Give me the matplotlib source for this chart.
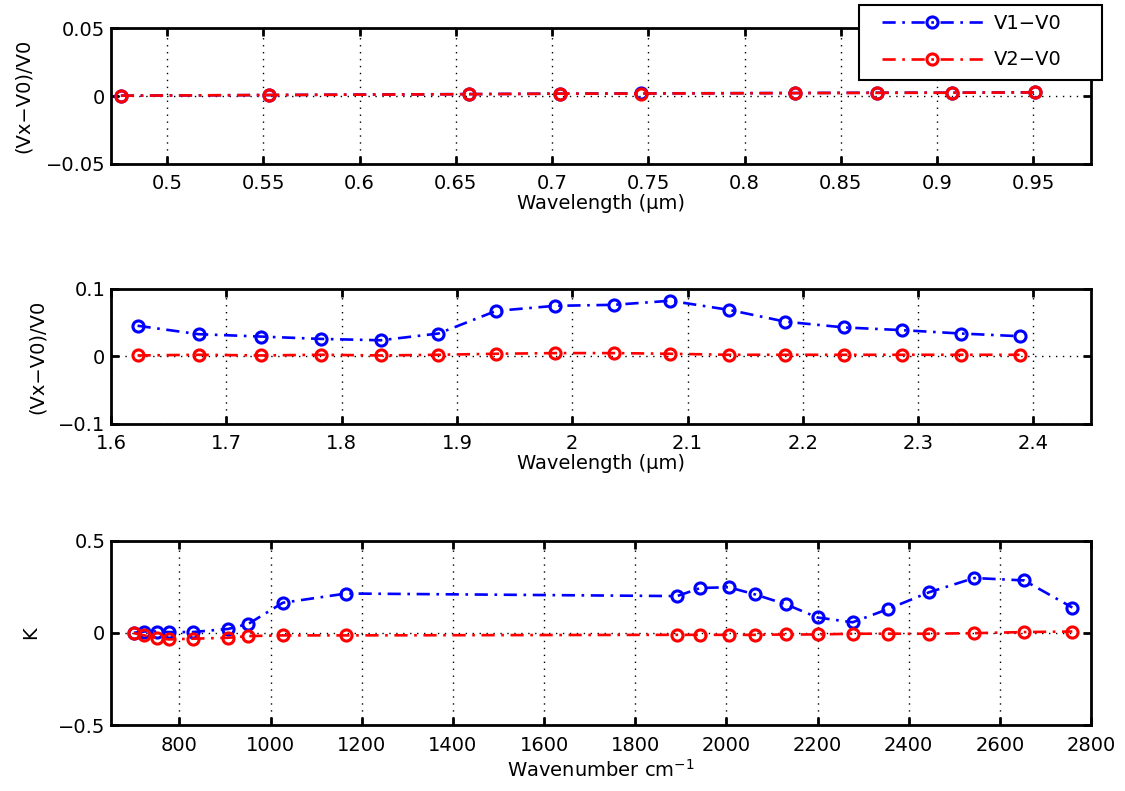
"""
Relative change (Vx-V0)/V0 in the visible and near-IR bands, and the
corresponding change in K over wavenumber, for two perturbed cases.
"""

import matplotlib
matplotlib.use('Agg')
import matplotlib.pyplot as plt
from matplotlib.patches import Rectangle
from matplotlib.ticker import FuncFormatter

plt.rcParams['font.family'] = ['DejaVu Sans']
plt.rcParams['axes.unicode_minus'] = True

# ── Data ───────────────────────────────────────────────────────────────────────

wl_vis = [0.476, 0.553, 0.657, 0.704, 0.746, 0.826, 0.869, 0.908, 0.951]
vis_v1 = [0.0003, 0.0008, 0.0015, 0.0018, 0.0020, 0.0023, 0.0025, 0.0025, 0.0028]
vis_v2 = [0.0003, 0.0008, 0.0014, 0.0018, 0.0019, 0.0022, 0.0024, 0.0025, 0.0027]

wl_nir = [1.623, 1.676, 1.730, 1.782, 1.834, 1.884, 1.934, 1.985,
          2.036, 2.085, 2.136, 2.185, 2.236, 2.286, 2.337, 2.388]
nir_v1 = [0.0455, 0.033, 0.0295, 0.026, 0.024, 0.034, 0.0675, 0.075,
          0.0765, 0.0825, 0.069, 0.0515, 0.043, 0.039, 0.034, 0.030]
nir_v2 = [0.0015, 0.0025, 0.0015, 0.0025, 0.0015, 0.0025, 0.004, 0.005,
          0.005, 0.004, 0.0025, 0.0025, 0.0025, 0.0025, 0.0025, 0.0025]

wavenumber = [700, 723, 751, 777, 829, 907, 951, 1027, 1166, 1892, 1943,
              2005, 2063, 2130, 2200, 2277, 2354, 2445, 2544, 2653, 2759]
k_v1 = [0.0, 0.007, 0.007, 0.004, 0.004, 0.021, 0.048, 0.163, 0.213, 0.199,
        0.243, 0.247, 0.208, 0.155, 0.083, 0.057, 0.128, 0.220, 0.297,
        0.284, 0.137]
k_v2 = [-0.002, -0.014, -0.028, -0.036, -0.032, -0.027, -0.018, -0.014,
        -0.014, -0.011, -0.011, -0.011, -0.011, -0.009, -0.009, -0.005,
        -0.005, -0.005, -0.002, 0.004, 0.007]

series_labels = ['V1\u2212V0', 'V2\u2212V0']
series_colors = ['#0000ff', '#ff0000']

vis_xticks = [0.5, 0.55, 0.6, 0.65, 0.7, 0.75, 0.8, 0.85, 0.9, 0.95]
nir_xticks = [1.6, 1.7, 1.8, 1.9, 2.0, 2.1, 2.2, 2.3, 2.4]
wn_xticks = [800, 1000, 1200, 1400, 1600, 1800, 2000, 2200, 2400, 2600, 2800]

FS = 14
DASHDOT = (0, (5, 2.5, 1, 2.5))
GRID_DOTS = (0, (1, 4))


def matlab_fmt(v, _pos=None):
    s = '%g' % round(v, 6)
    return s.replace('-', '\u2212')


def style_axis(ax, xlim, ylim, xticks, yticks, xpad=7):
    ax.set_xlim(*xlim)
    ax.set_ylim(*ylim)
    ax.set_xticks(xticks)
    ax.set_yticks(yticks)
    ax.xaxis.set_major_formatter(FuncFormatter(matlab_fmt))
    ax.yaxis.set_major_formatter(FuncFormatter(matlab_fmt))
    ax.tick_params(direction='in', length=6, width=2, top=True, right=True,
                   labelsize=FS, colors='k')
    ax.tick_params(axis='x', pad=xpad)
    ax.tick_params(axis='y', pad=4)
    for sp in ax.spines.values():
        sp.set_linewidth(2)
    ax.grid(True, color='k', linestyle=GRID_DOTS, linewidth=1)
    ax.set_axisbelow(True)


def draw_pair(ax, x, y1, y2):
    handles = []
    for y, c in zip((y1, y2), series_colors):
        h, = ax.plot(x, y, color=c, linestyle=DASHDOT, linewidth=1.9,
                     marker='o', markersize=8, markerfacecolor='none',
                     markeredgewidth=2.2)
        handles.append(h)
    return handles


fig = plt.figure(figsize=(11.25, 7.91), dpi=100)
left, width = 0.0987, 0.8711

ax1 = fig.add_axes([left, 0.7927, width, 0.1716])
handles = draw_pair(ax1, wl_vis, vis_v1, vis_v2)
style_axis(ax1, (0.4709, 0.980), (-0.05, 0.05), vis_xticks, [-0.05, 0, 0.05])
ax1.set_xlabel('Wavelength (\u03bcm)', fontsize=FS, labelpad=1)
ax1.set_ylabel('(Vx\u2212V0)/V0', fontsize=FS, labelpad=9)

ax2 = fig.add_axes([left, 0.4640, width, 0.1707])
draw_pair(ax2, wl_nir, nir_v1, nir_v2)
style_axis(ax2, (1.6, 2.45), (-0.1, 0.1), nir_xticks, [-0.1, 0, 0.1])
ax2.set_xlabel('Wavelength (\u03bcm)', fontsize=FS, labelpad=1)
ax2.set_ylabel('(Vx\u2212V0)/V0', fontsize=FS, labelpad=8)

ax3 = fig.add_axes([left, 0.0834, width, 0.2332])
draw_pair(ax3, wavenumber, k_v1, k_v2)
style_axis(ax3, (650, 2800), (-0.5, 0.5), wn_xticks, [-0.5, 0, 0.5], xpad=8)
ax3.set_xlabel('Wavenumber cm$^{-1}$', fontsize=FS, labelpad=3)
ax3.set_ylabel('K', fontsize=FS, labelpad=13)

# legend box sits over the top-right corner of the first panel
box = Rectangle((859 / 1125, 1 - 80 / 791), 243 / 1125, 75 / 791,
                transform=fig.transFigure, facecolor='white',
                edgecolor='k', linewidth=1.5, zorder=4)
fig.add_artist(box)
leg = fig.legend(handles, series_labels, loc='center left',
                 bbox_to_anchor=(872 / 1125, 1 - 41.7 / 791),
                 frameon=False, borderpad=0, handlelength=5.2,
                 handletextpad=0.55, labelspacing=0.9, fontsize=FS)
leg.set_zorder(6)

fig.savefig('out.png', dpi=100)
